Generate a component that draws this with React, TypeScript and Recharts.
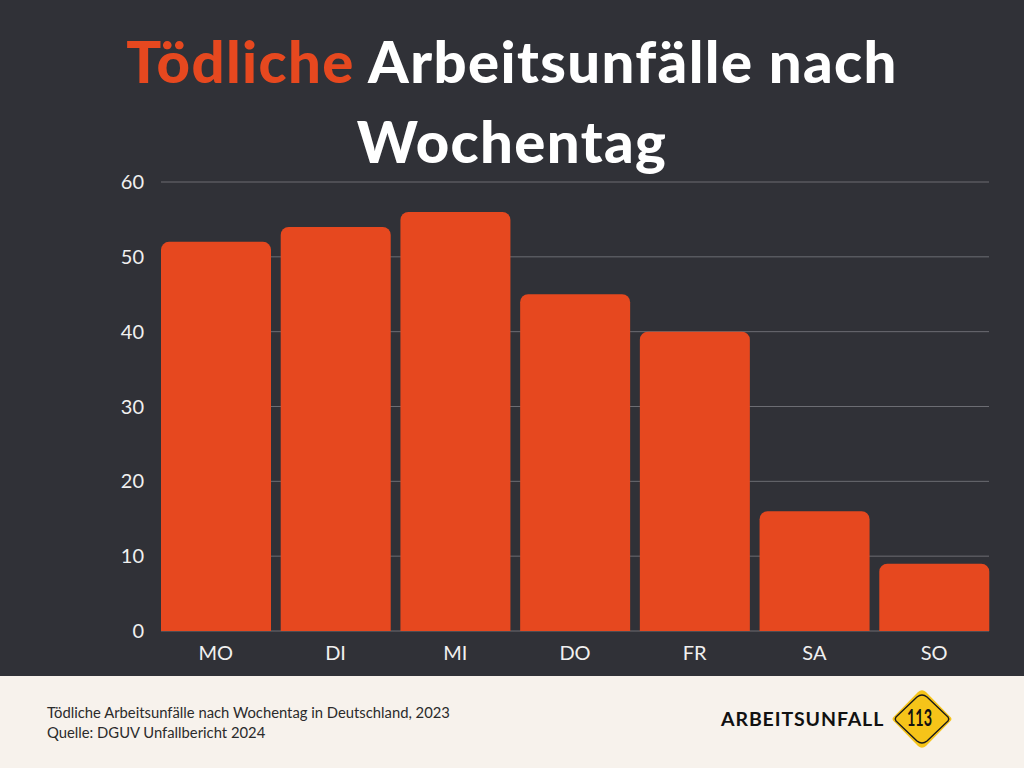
import { BarChart, Bar, XAxis, YAxis, CartesianGrid } from 'recharts';

const tage = ['MO', 'DI', 'MI', 'DO', 'FR', 'SA', 'SO'];
const todesfaelle = [52, 54, 56, 45, 40, 16, 9];
const yTicks = [0, 10, 20, 30, 40, 50, 60];

const data = tage.map((tag, i) => ({ tag, wert: todesfaelle[i] }));

const ORANGE = '#e6481f';
const DARK = '#303137';

const gridLine = (props: any) => {
  const { x1, x2, y1, y2, key } = props;
  return <line key={key} x1={x1 + 5} x2={x2 - 5} y1={y1} y2={y2} stroke="#6c6d73" strokeWidth={1} />;
};

export default function App() {
  return (
    <div style={{ position: 'absolute', left: 0, top: 0, width: 1024, height: 768, background: DARK, overflow: 'hidden' }}>
      <div
        style={{
          position: 'absolute',
          top: 21,
          left: 0,
          width: 1024,
          textAlign: 'center',
          fontFamily: 'Lato, sans-serif',
          fontWeight: 900,
          fontSize: 58,
          lineHeight: '80px',
          letterSpacing: 1.4,
          color: '#ffffff',
        }}
      >
        <span style={{ color: ORANGE }}>Tödliche</span> Arbeitsunfälle nach
        <br />
        Wochentag
      </div>

      <div style={{ position: 'absolute', left: 0, top: 0 }}>
        <BarChart width={1024} height={676} data={data} margin={{ top: 182, right: 30, left: 0, bottom: 0 }} barCategoryGap={5}>
          <CartesianGrid vertical={false} horizontal={gridLine} />
          <XAxis
            dataKey="tag"
            axisLine={false}
            tickLine={false}
            height={45}
            tickMargin={9}
            tick={{ fill: '#f0f0f0', fontSize: 20, fontFamily: 'Lato, sans-serif' }}
          />
          <YAxis
            domain={[0, 60]}
            ticks={yTicks}
            width={156}
            axisLine={false}
            tickLine={false}
            tickMargin={6}
            tick={{ fill: '#f0f0f0', fontSize: 20, fontFamily: 'Lato, sans-serif' }}
          />
          <Bar dataKey="wert" fill={ORANGE} radius={[8, 8, 0, 0]} isAnimationActive={false} />
        </BarChart>
      </div>

      <div style={{ position: 'absolute', left: 0, top: 676, width: 1024, height: 92, background: '#f7f2ec' }}>
        <div
          style={{
            position: 'absolute',
            left: 47,
            top: 26,
            fontFamily: 'Lato, sans-serif',
            fontSize: 14.8,
            lineHeight: '20px',
            color: '#2b2b2b',
          }}
        >
          Tödliche Arbeitsunfälle nach Wochentag in Deutschland, 2023
          <br />
          Quelle: DGUV Unfallbericht 2024
        </div>
        <div
          style={{
            position: 'absolute',
            left: 721,
            top: 31,
            fontFamily: 'Lato, sans-serif',
            fontWeight: 700,
            fontSize: 19.5,
            color: '#111111',
            letterSpacing: 0.9,
          }}
        >
          ARBEITSUNFALL
        </div>
        <svg style={{ position: 'absolute', left: 890, top: 12 }} width={64} height={62} viewBox="0 0 64 62">
          <path
            d="M4 33.5 Q1 31 4 28.5 L28 4 Q32 0.5 36 4 L60 28.5 Q63 31 60 33.5 L36 58 Q32 61.5 28 58 Z"
            fill="#f6c419"
          />
          <path
            d="M6 33 Q4.5 31 6 29 L27 9 Q32 5 37 9 L58 29 Q59.5 31 58 33 L37 53 Q32 57 27 53 Z"
            fill="none"
            stroke="#1a1a1a"
            strokeWidth={1.4}
            strokeLinejoin="round"
          />
          <text
            x={17}
            y={38}
            textLength={25}
            lengthAdjust="spacingAndGlyphs"
            fontFamily="Lato, sans-serif"
            fontWeight={700}
            fontSize={23}
            fill="#111"
          >
            113
          </text>
        </svg>
      </div>
    </div>
  );
}
